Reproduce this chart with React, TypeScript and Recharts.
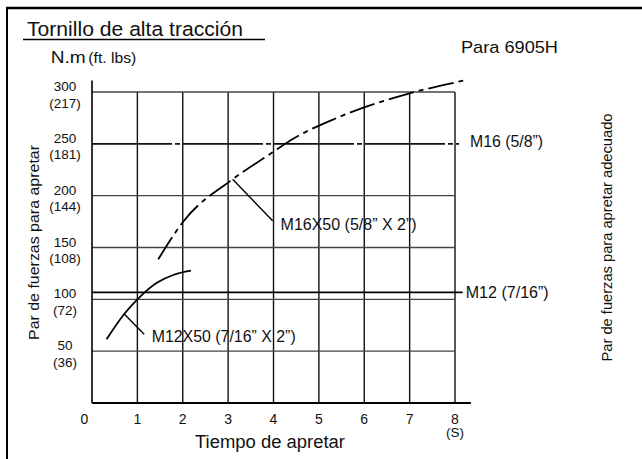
import { LineChart, Line, XAxis, YAxis, ReferenceLine, ReferenceDot } from "recharts";

// ── data ──────────────────────────────────────────────────
const timeTicks = [0, 1, 2, 3, 4, 5, 6, 7, 8];
const torqueTicks = [50, 100, 150, 200, 250, 300];
const torqueTicksFtLbs = ["(36)", "(72)", "(108)", "(144)", "(181)", "(217)"];
const gridTimes = [1, 2, 3, 4, 5, 6, 7, 8];
const gridTorques = [50, 100, 150, 200, 300];

// M12X50 (7/16" X 2") curve
const m12x50Time = [0.32, 0.71, 1.0, 1.43, 1.79, 2.18];
const m12x50Torque = [61.4, 85.9, 100, 116, 123.5, 127.6];

// M16X50 (5/8" X 2") curve
const m16x50Time = [1.46, 2.01, 3.1, 3.98, 4.36, 5.39, 7.0, 8.18];
const m16x50Torque = [138.6, 174.9, 215.8, 241.8, 253, 274.9, 298.7, 310.9];

// adequate tightening torque
const m12Torque = 106.7;
const m16Torque = 250;

const m12x50Data = m12x50Time.map((x, i) => ({ x, y: m12x50Torque[i] }));
const m16x50Data = m16x50Time.map((x, i) => ({ x, y: m16x50Torque[i] }));

const FONT = "'Liberation Sans', Arial, Helvetica, sans-serif";

// eslint-disable-next-line @typescript-eslint/no-explicit-any
function XTick({ x, y, payload }: any) {
  const v = payload.value;
  return (
    <g>
      <text x={x + (v === 0 ? -7.5 : 0)} y={y + 20.5} textAnchor="middle" fontSize={14} fontFamily={FONT} fill="#111">
        {v}
      </text>
      {v === 8 && (
        <text x={x} y={y + 34} textAnchor="middle" fontSize={13.5} fontFamily={FONT} fill="#111">
          (S)
        </text>
      )}
    </g>
  );
}

// eslint-disable-next-line @typescript-eslint/no-explicit-any
function YTick({ x, y, payload }: any) {
  const i = torqueTicks.indexOf(payload.value);
  return (
    <g fontSize={13.5} fontFamily={FONT} fill="#111">
      <text x={x - 27} y={y - 1} textAnchor="middle">{payload.value}</text>
      <text x={x - 27} y={y + 15.5} textAnchor="middle">{torqueTicksFtLbs[i]}</text>
    </g>
  );
}

function sideLabel(value: string, dx: number, dy: number, len: number) {
  // eslint-disable-next-line @typescript-eslint/no-explicit-any
  return ({ viewBox }: any) => (
    <text
      x={viewBox.x + viewBox.width + dx}
      y={viewBox.y + viewBox.height / 2 + dy}
      dominantBaseline="central"
      fontSize={16}
      fontFamily={FONT}
      fill="#111"
      textLength={len}
      lengthAdjust="spacingAndGlyphs"
    >
      {value}
    </text>
  );
}

export default function App() {
  return (
    <div style={{ position: "absolute", left: 0, top: 0, width: 642, height: 459, background: "#fff" }}>
      <LineChart
        width={642}
        height={459}
        margin={{ top: 80.6, right: 171.1, bottom: 26, left: 32 }}
      >
        <XAxis
          type="number"
          dataKey="x"
          domain={[0, 8.35]}
          ticks={timeTicks}
          tick={<XTick />}
          tickSize={0}
          tickMargin={0}
          axisLine={{ stroke: "#000", strokeWidth: 2 }}
          height={30}
        />
        <YAxis
          type="number"
          dataKey="y"
          domain={[0, 311]}
          ticks={torqueTicks}
          tick={<YTick />}
          tickSize={0}
          tickMargin={0}
          axisLine={{ stroke: "#000", strokeWidth: 1.6 }}
          width={60}
        />

        {gridTimes.map((t) => (
          <ReferenceLine key={`gx${t}`} segment={[{ x: t, y: 0 }, { x: t, y: 300 }]} stroke="#111" strokeWidth={1.4} />
        ))}
        {gridTorques.map((v) => (
          <ReferenceLine key={`gy${v}`} segment={[{ x: 0, y: v }, { x: 8, y: v }]} stroke="#444" strokeWidth={1.4} />
        ))}

        <ReferenceLine
          segment={[{ x: 0, y: m16Torque }, { x: 8.09, y: m16Torque }]}
          stroke="#111"
          strokeWidth={1.7}
          strokeDasharray="80 3 5 3"
          label={sideLabel("M16 (5/8”)", 11, -2, 73)}
        />
        <ReferenceLine
          segment={[{ x: 0, y: m12Torque }, { x: 8.17, y: m12Torque }]}
          stroke="#000"
          strokeWidth={1.7}
          label={sideLabel("M12 (7/16”)", 3, 0, 83)}
        />

        {/* leader lines */}
        <ReferenceLine segment={[{ x: 3.1, y: 215.8 }, { x: 3.98, y: 175.8 }]} stroke="#000" strokeWidth={1.4} />
        <ReferenceDot x={3.98} y={175.8} r={0} stroke="none" fill="none" label={sideLabel("M16X50 (5/8” X 2”)", 8, 3.3, 136)} />
        <ReferenceLine segment={[{ x: 0.71, y: 85.9 }, { x: 1.15, y: 66.3 }]} stroke="#000" strokeWidth={1.4} />
        <ReferenceDot x={1.15} y={66.3} r={0} stroke="none" fill="none" label={sideLabel("M12X50 (7/16” X 2”)", 7.5, 2.7, 144)} />

        <Line
          data={m16x50Data}
          dataKey="y"
          type="monotone"
          stroke="#000"
          strokeWidth={1.8}
          strokeDasharray="26 5 5 5"
          dot={false}
          isAnimationActive={false}
        />
        <Line
          data={m12x50Data}
          dataKey="y"
          type="monotone"
          stroke="#000"
          strokeWidth={1.8}
          dot={false}
          isAnimationActive={false}
        />
      </LineChart>

      <svg
        width={642}
        height={459}
        style={{ position: "absolute", left: 0, top: 0, pointerEvents: "none" }}
        fontFamily={FONT}
        fill="#111"
      >
        <line x1={6} y1={8} x2={642} y2={8} stroke="#000" strokeWidth={2.5} />
        <line x1={7} y1={7} x2={7} y2={459} stroke="#000" strokeWidth={2} />

        <text x={27} y={36} fontSize={20.5} textLength={216} lengthAdjust="spacingAndGlyphs">
          Tornillo de alta tracción
        </text>
        <line x1={23} y1={39.5} x2={265} y2={39.5} stroke="#000" strokeWidth={1.3} />

        <text x={50.7} y={62.7} fontSize={16} textLength={35} lengthAdjust="spacingAndGlyphs">N.m</text>
        <text x={88.3} y={62.7} fontSize={14} textLength={48} lengthAdjust="spacingAndGlyphs">(ft. lbs)</text>

        <text x={461} y={53} fontSize={17} textLength={97} lengthAdjust="spacingAndGlyphs">Para 6905H</text>

        <text x={195} y={447.5} fontSize={18} textLength={150} lengthAdjust="spacingAndGlyphs">Tiempo de apretar</text>

        <text
          x={33}
          y={242.5}
          fontSize={15.5}
          textAnchor="middle"
          dominantBaseline="central"
          transform="rotate(-90 33 242.5)"
          textLength={195}
          lengthAdjust="spacingAndGlyphs"
        >
          Par de fuerzas para apretar
        </text>
        <text
          x={607}
          y={237.5}
          fontSize={14.5}
          textAnchor="middle"
          dominantBaseline="central"
          transform="rotate(-90 607 237.5)"
          textLength={248}
          lengthAdjust="spacingAndGlyphs"
        >
          Par de fuerzas para apretar adecuado
        </text>
      </svg>
    </div>
  );
}
